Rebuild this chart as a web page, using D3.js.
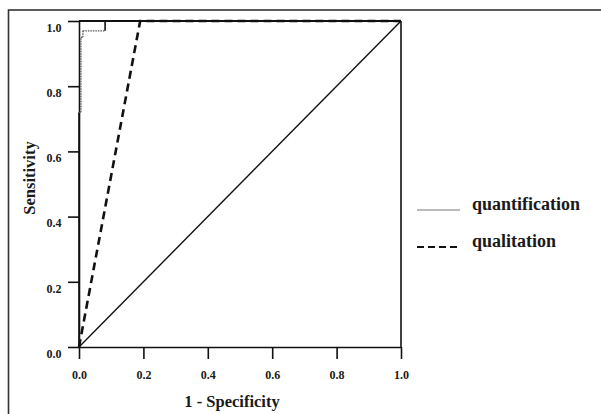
<!DOCTYPE html>
<html>
<head>
<meta charset="utf-8">
<script src="https://cdn.jsdelivr.net/npm/d3@7"></script>
<style>
  body { margin: 0; background: #fff; }
  text { font-family: "Liberation Serif", "Times New Roman", serif; font-weight: bold; fill: #1a1a1a; }
  .axis path, .axis line { stroke: #111; stroke-width: 1.6; }
</style>
</head>
<body>
<div id="chart"></div>
<script>
// tick values
var tickVals = [0, 0.2, 0.4, 0.6, 0.8, 1.0];

// reference line
var refFpr = [0, 1];
var refTpr = [0, 1];

// qualitation ROC
var qualFpr = [0, 0.19, 1];
var qualTpr = [0, 1, 1];

// quantification ROC (steps)
var quantFpr = [0, 0, 0.006, 0.006, 0.012, 0.012, 0.081, 0.081, 1];
var quantTpr = [0, 0.72, 0.72, 0.95, 0.95, 0.97, 0.97, 1, 1];

var legendLabels = ["quantification", "qualitation"];

var width = 601, height = 414;
var margin = { top: 21, left: 79, right: 200, bottom: 67 };
var w = 401 - 79, h = 347 - 21;

var svg = d3.select("#chart").append("svg")
  .attr("width", width)
  .attr("height", height);

// outer frame
svg.append("rect")
  .attr("x", 8.5).attr("y", 10)
  .attr("width", 620).attr("height", 420)
  .attr("fill", "none")
  .attr("stroke", "#333")
  .attr("stroke-width", 1.6);

var g = svg.append("g")
  .attr("transform", "translate(" + margin.left + "," + margin.top + ")");

var x = d3.scaleLinear().domain([0, 1]).range([0, w]);
var y = d3.scaleLinear().domain([0, 1]).range([h, 0]);

var fmt = d3.format(".1f");

var xAxis = g.append("g")
  .attr("class", "axis")
  .attr("transform", "translate(0," + h + ")")
  .call(d3.axisBottom(x).tickValues(tickVals).tickSize(12).tickSizeOuter(0).tickFormat(fmt));
xAxis.selectAll("text").attr("font-size", 12).attr("dy", "1.45em");

var yAxis = g.append("g")
  .attr("class", "axis")
  .call(d3.axisLeft(y).tickValues(tickVals).tickSize(11).tickSizeOuter(0).tickFormat(fmt));
yAxis.selectAll("text").attr("font-size", 12).attr("dx", "-0.3em").attr("dy", "0.85em");

// box top and right
g.append("line").attr("x1", 0).attr("x2", w).attr("y1", 0).attr("y2", 0)
  .attr("stroke", "#111").attr("stroke-width", 1.8);
g.append("line").attr("x1", w).attr("x2", w).attr("y1", 0).attr("y2", h)
  .attr("stroke", "#111").attr("stroke-width", 1.6);

var line = d3.line().x(function(d) { return x(d[0]); }).y(function(d) { return y(d[1]); });

// diagonal
g.append("path")
  .attr("d", line(d3.zip(refFpr, refTpr)))
  .attr("fill", "none").attr("stroke", "#111").attr("stroke-width", 1.4);

// quantification, drawn segment by segment (staircase part looks dotted)
var qpts = d3.zip(quantFpr, quantTpr);
for (var i = 0; i < qpts.length - 1; i++) {
  var a = qpts[i], b = qpts[i + 1];
  var stair = a[1] >= 0.72 && b[1] <= 0.97 && !(a[0] == 0 && a[1] == 0);
  g.append("path")
    .attr("d", line([a, b]))
    .attr("fill", "none")
    .attr("stroke", stair ? "#555" : "#111")
    .attr("stroke-width", stair ? 1.3 : 1.6)
    .attr("stroke-dasharray", stair ? "1.5,1" : null);
}

// qualitation
g.append("path")
  .attr("d", line(d3.zip(qualFpr, qualTpr)))
  .attr("fill", "none").attr("stroke", "#111")
  .attr("stroke-width", 2.6).attr("stroke-dasharray", "8,5");

// axis titles
svg.append("text")
  .attr("x", 232).attr("y", 407)
  .attr("text-anchor", "middle").attr("font-size", 16.5)
  .text("1 - Specificity");

svg.append("text")
  .attr("transform", "translate(35,178) rotate(-90)")
  .attr("text-anchor", "middle").attr("font-size", 16.5)
  .text("Sensitivity");

// legend
var leg = svg.append("g").attr("transform", "translate(417,0)");
leg.append("line").attr("x1", 0).attr("x2", 43).attr("y1", 210).attr("y2", 210)
  .attr("stroke", "#777").attr("stroke-width", 1);
leg.append("line").attr("x1", 0).attr("x2", 43).attr("y1", 247).attr("y2", 247)
  .attr("stroke", "#111").attr("stroke-width", 2.2).attr("stroke-dasharray", "7,4");
leg.selectAll(".lt")
  .data(legendLabels)
  .enter().append("text")
  .attr("class", "lt")
  .attr("x", 55)
  .attr("y", function(d, i) { return 210 + i * 37; })
  .attr("font-size", 18)
  .text(function(d) { return d; });
</script>
</body>
</html>
